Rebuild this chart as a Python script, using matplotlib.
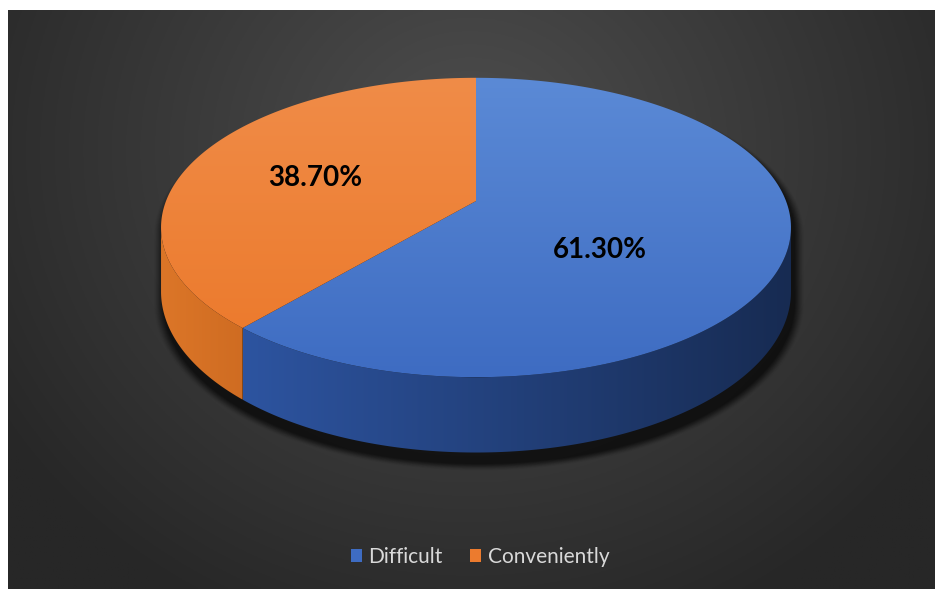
import numpy as np
import matplotlib.pyplot as plt
from matplotlib.colors import to_rgb
from matplotlib.patches import Polygon, Patch

labels = ['Difficult', 'Conveniently']
shares = [61.3, 38.7]
top_colors = [('#5b8ad6', '#3e6cc2'), ('#f08c48', '#ec7b2e')]
side_colors = [('#2d54a0', '#172b52'), ('#dc7628', '#cf6c22')]
label_pos = [(600, 250), (315, 178)]

W, H = 935, 589
cx, vy = 476, H - 201       # pie centre on screen
A, B = 310, 145             # horizontal / vertical radius before perspective
k = 0.177                   # perspective: far edge shrinks, near edge grows
D = 62                      # thickness of the pie

plt.rcParams['font.family'] = ['Lato', 'DejaVu Sans']
fig = plt.figure(figsize=(W / 100, H / 100), dpi=100)
ax = fig.add_axes([0, 0, 1, 1])
ax.set_xlim(0, W)
ax.set_ylim(0, H)
ax.axis('off')

# dark radial background, white strip on the top and left
fig.patch.set_facecolor('white')
gx, gy = np.meshgrid(np.linspace(8, W, 400), np.linspace(0, H - 10, 260))
d = np.sqrt(((gx - 470) / 560) ** 2 + ((gy - (H - 150)) / 520) ** 2)
d = np.clip(d, 0, 1)
inner, outer = np.array(to_rgb('#4e4e4e')), np.array(to_rgb('#272727'))
bg = inner[None, None, :] * (1 - d[..., None]) + outer[None, None, :] * d[..., None]
ax.imshow(bg, extent=[8, W, 0, H - 10], origin='lower', aspect='auto', zorder=0)


def proj(t_deg, r=1.0, drop=0.0):
    t = np.radians(np.atleast_1d(t_deg))
    X, Y = r * np.cos(t), r * np.sin(t)
    s = 1 / (1 + k * Y)
    return np.column_stack([cx + A * X * s, vy + B * Y * s - drop * s])


def arc(t1, t2, drop=0.0, r=1.0, n=200):
    return proj(np.linspace(t1, t2, n), r, drop)


# side wall is visible between the two silhouette points
edge = np.degrees(np.arcsin(k))
wall_lo, wall_hi = 180 + edge, 360 - edge

# soft shadow under the pie, pushed down and right
for i, a in enumerate(np.linspace(0.03, 0.15, 10)):
    r = 1.03 - i * 0.003
    sil = np.vstack([arc(wall_hi - 360, wall_lo, r=r), arc(wall_lo, wall_hi, drop=D + 4, r=r)])
    sil[:, 0] += 3
    sil[:, 1] -= 6
    ax.add_patch(Polygon(sil, closed=True, fc='black', ec='none', alpha=a, zorder=1))


def shaded(poly, c1, c2, horizontal, z):
    patch = Polygon(poly, closed=True, fc='none', ec='none', zorder=z)
    ax.add_patch(patch)
    g = np.linspace(0, 1, 256)
    a, b = np.array(to_rgb(c1)), np.array(to_rgb(c2))
    col = a[None, :] * (1 - g[:, None]) + b[None, :] * g[:, None]
    x0, y0 = poly.min(axis=0)
    x1, y1 = poly.max(axis=0)
    img = col[None, :, :] if horizontal else col[::-1][:, None, :]
    im = ax.imshow(img, extent=[x0, x1, y0, y1], origin='lower', aspect='auto', zorder=z)
    im.set_clip_path(patch)


# slices start at twelve o'clock; the second one runs counterclockwise from there
total = sum(shares)
split = 90 + 360 * shares[1] / total
spans = [(split, 450), (90, split)]

for i, (t1, t2) in enumerate(spans):
    w1, w2 = max(t1, wall_lo), min(t2, wall_hi)
    if w1 < w2:
        wall = np.vstack([arc(w1, w2), arc(w1, w2, drop=D)[::-1]])
        shaded(wall, side_colors[i][0], side_colors[i][1], True, 2)
    face = np.vstack([[cx, vy], arc(t1, t2)])
    shaded(face, top_colors[i][0], top_colors[i][1], False, 3)

for i in range(len(shares)):
    ax.text(label_pos[i][0], H - label_pos[i][1], f'{shares[i]:.2f}%', ha='center',
            va='center', fontsize=20, fontweight='bold', color='black', zorder=5)

handles = [Patch(facecolor=top_colors[i][1], edgecolor='none', label=labels[i])
           for i in range(len(labels))]
leg = ax.legend(handles=handles, loc='center', bbox_to_anchor=(480 / W, 1 - 557 / H),
                ncol=2, frameon=False, fontsize=15, handlelength=0.55, handleheight=0.55,
                handletextpad=0.3, columnspacing=1.3)
for t in leg.get_texts():
    t.set_color('#d9d9d9')

fig.savefig('out.png', dpi=100)
